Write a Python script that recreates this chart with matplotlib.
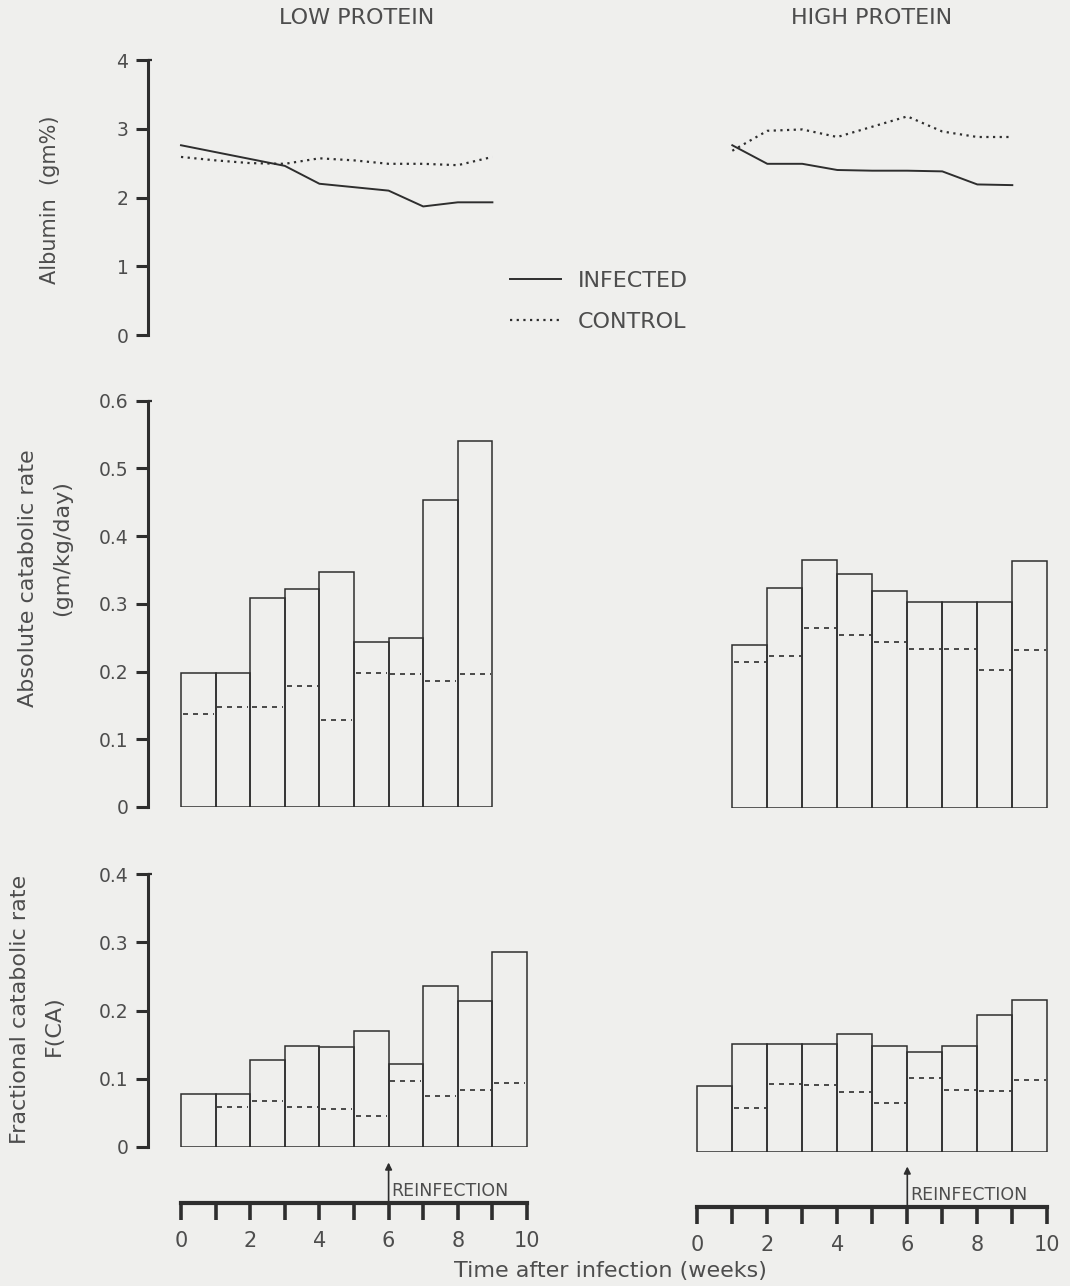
import numpy as np
import matplotlib
matplotlib.use("Agg")
import matplotlib.pyplot as plt
from matplotlib.lines import Line2D

# --- data ---
alb_weeks_low = [0, 1, 2, 3, 4, 5, 6, 7, 8, 9]
alb_low_infected = [2.76, 2.66, 2.56, 2.46, 2.20, 2.15, 2.10, 1.87, 1.93, 1.93]
alb_low_control = [2.59, 2.54, 2.50, 2.49, 2.57, 2.54, 2.49, 2.49, 2.47, 2.59]

alb_weeks_high = [1, 2, 3, 4, 5, 6, 7, 8, 9]
alb_high_infected = [2.76, 2.49, 2.49, 2.40, 2.39, 2.39, 2.38, 2.19, 2.18]
alb_high_control = [2.68, 2.97, 2.99, 2.88, 3.03, 3.18, 2.96, 2.88, 2.88]

acr_weeks_low = [0, 1, 2, 3, 4, 5, 6, 7, 8]
acr_low_infected = [0.198, 0.198, 0.308, 0.322, 0.347, 0.244, 0.249, 0.454, 0.541]
acr_low_control = [0.138, 0.148, 0.148, 0.178, 0.128, 0.198, 0.197, 0.186, 0.196]

acr_weeks_high = [1, 2, 3, 4, 5, 6, 7, 8, 9]
acr_high_infected = [0.241, 0.325, 0.366, 0.345, 0.321, 0.304, 0.304, 0.304, 0.365]
acr_high_control = [0.216, 0.225, 0.266, 0.255, 0.245, 0.235, 0.235, 0.204, 0.234]

fcr_weeks = [0, 1, 2, 3, 4, 5, 6, 7, 8, 9]
fcr_low_infected = [0.077, 0.077, 0.127, 0.148, 0.147, 0.170, 0.121, 0.236, 0.214, 0.285]
fcr_low_control = [None, 0.058, 0.068, 0.058, 0.055, 0.045, 0.096, 0.075, 0.084, 0.094]
fcr_high_infected = [0.097, 0.158, 0.158, 0.158, 0.173, 0.156, 0.147, 0.155, 0.201, 0.222]
fcr_high_control = [None, 0.064, 0.099, 0.098, 0.088, 0.072, 0.108, 0.091, 0.090, 0.105]

alb_ticks = [0, 1, 2, 3, 4]
alb_ticklabels = ["0", "1", "2", "3", "4"]
acr_ticks = [0, 0.1, 0.2, 0.3, 0.4, 0.5, 0.6]
acr_ticklabels = ["0", "0.1", "0.2", "0.3", "0.4", "0.5", "0.6"]
fcr_ticks = [0, 0.1, 0.2, 0.3, 0.4]
fcr_ticklabels = ["0", "0.1", "0.2", "0.3", "0.4"]
week_ticks = [0, 2, 4, 6, 8, 10]
week_minor = [1, 3, 5, 7, 9]

BG = "#efefed"
INK = "#2e2e2e"
TXT = "#4d4d4d"
W, H = 1070, 1286
plt.rcParams["font.family"] = "DejaVu Sans"

fig = plt.figure(figsize=(W / 100, H / 100), dpi=100, facecolor=BG)

XMIN, XMAX = -0.954, 10.35


def px_axes(x_zero, week_px, y_zero, y_top):
    left = x_zero + XMIN * week_px
    right = x_zero + XMAX * week_px
    ax = fig.add_axes([left / W, 1 - y_zero / H, (right - left) / W, (y_zero - y_top) / H])
    ax.set_xlim(XMIN, XMAX)
    ax.patch.set_alpha(0)
    for s in ax.spines.values():
        s.set_visible(False)
    ax.set_xticks([])
    ax.set_yticks([])
    return ax


def add_yaxis(ax, ticks, labels):
    ax.spines["left"].set_visible(True)
    ax.spines["left"].set_linewidth(2.2)
    ax.spines["left"].set_color(INK)
    ax.set_yticks(ticks)
    ax.set_yticklabels(labels)
    ax.tick_params(axis="y", direction="out", length=9, width=2.2, color=INK,
                   labelsize=13.5, labelcolor=TXT, pad=5)
    # small hook at the top of the axis line
    ax.plot([XMIN, XMIN + 0.12], [ticks[-1], ticks[-1]], color=INK, linewidth=1.6,
            clip_on=False, solid_capstyle="butt")


def draw_bars(ax, weeks, infected, control):
    ax.bar(weeks, infected, width=1, align="edge", fill=False,
           edgecolor=INK, linewidth=1.1)
    wk = np.array([w for w, c in zip(weeks, control) if c is not None], dtype=float)
    cv = np.array([c for c in control if c is not None], dtype=float)
    ax.hlines(cv, wk + 0.05, wk + 0.95, colors=INK, linewidth=1.2,
              linestyles=(0, (3, 3)))


# geometry of the two columns (pixel position of week 0, pixels per week)
LX0, LWK = 181, 34.6
RX0, RWK = 697.3, 35.0

# --- albumin ---
ax = px_axes(LX0, LWK, 335, 60)
ax.set_ylim(0, 4)
add_yaxis(ax, alb_ticks, alb_ticklabels)
ax.plot(alb_weeks_low, alb_low_infected, color=INK, linewidth=1.4)
ax.plot(alb_weeks_low, alb_low_control, color=INK, linewidth=1.6, linestyle=(0, (1, 2)))

ax = px_axes(RX0, RWK, 335, 60)
ax.set_ylim(0, 4)
ax.plot(alb_weeks_high, alb_high_infected, color=INK, linewidth=1.4)
ax.plot(alb_weeks_high, alb_high_control, color=INK, linewidth=1.6, linestyle=(0, (1, 2)))

# --- absolute catabolic rate ---
ax = px_axes(LX0, LWK, 807, 400.7)
ax.set_ylim(0, 0.6)
add_yaxis(ax, acr_ticks, acr_ticklabels)
draw_bars(ax, acr_weeks_low, acr_low_infected, acr_low_control)

ax = px_axes(RX0, RWK, 808, 401.7)
ax.set_ylim(0, 0.6)
draw_bars(ax, acr_weeks_high, acr_high_infected, acr_high_control)

# --- fractional catabolic rate ---
ax = px_axes(LX0, LWK, 1147, 874)
ax.set_ylim(0, 0.4)
add_yaxis(ax, fcr_ticks, fcr_ticklabels)
draw_bars(ax, fcr_weeks, fcr_low_infected, fcr_low_control)

ax = px_axes(RX0, RWK, 1152, 879)
ax.set_ylim(0, 0.4)
draw_bars(ax, fcr_weeks, fcr_high_infected, fcr_high_control)

# --- time axes with reinfection arrow ---
for x0, wk, y_line in [(LX0, LWK, 1203), (RX0, RWK, 1207)]:
    tax = px_axes(x0, wk, y_line, y_line - 45)
    tax.set_ylim(0, 1)
    tax.spines["bottom"].set_visible(True)
    tax.spines["bottom"].set_bounds(0, 10)
    tax.spines["bottom"].set_linewidth(3)
    tax.spines["bottom"].set_color(INK)
    tax.set_xticks(week_ticks)
    tax.set_xticklabels([str(t) for t in week_ticks])
    tax.set_xticks(week_minor, minor=True)
    tax.tick_params(axis="x", which="both", direction="out", length=12, width=2.6,
                    color=INK, labelsize=15, labelcolor=TXT, pad=8)
    tax.annotate("", xy=(6, 0.9), xytext=(6, 0),
                 arrowprops=dict(arrowstyle="-|>", color=INK, lw=1.2,
                                 mutation_scale=10, shrinkA=0, shrinkB=0))
    tax.text(6.07, 0.06, "REINFECTION", fontsize=12.5, color=TXT, ha="left", va="bottom")

# --- texts ---
fig.text(357 / W, 1 - 18 / H, "LOW PROTEIN", fontsize=16, color=TXT, ha="center", va="center")
fig.text(872 / W, 1 - 18 / H, "HIGH PROTEIN", fontsize=16, color=TXT, ha="center", va="center")
fig.text(610 / W, 1 - 1271 / H, "Time after infection (weeks)", fontsize=16, color=TXT,
         ha="center", va="center")
fig.text(50 / W, 1 - 200 / H, "Albumin  (gm%)", fontsize=15, color=TXT,
         rotation=90, ha="center", va="center")
fig.text(28 / W, 1 - 578 / H, "Absolute catabolic rate", fontsize=16, color=TXT,
         rotation=90, ha="center", va="center")
fig.text(62 / W, 1 - 548 / H, "(gm/kg/day)", fontsize=16, color=TXT,
         rotation=90, ha="center", va="center")
fig.text(20 / W, 1 - 1009 / H, "Fractional catabolic rate", fontsize=16, color=TXT,
         rotation=90, ha="center", va="center")
fig.text(54 / W, 1 - 1026 / H, "F(CA)", fontsize=16, color=TXT,
         rotation=90, ha="center", va="center")

handles = [Line2D([], [], color=INK, linewidth=1.4),
           Line2D([], [], color=INK, linewidth=1.6, linestyle=(0, (1, 2)))]
fig.legend(handles, ["INFECTED", "CONTROL"], loc="upper left",
           bbox_to_anchor=(510 / W, 1 - 271 / H), frameon=False, fontsize=16,
           labelcolor=TXT, handlelength=2.3, handletextpad=0.75, labelspacing=0.95,
           borderpad=0, borderaxespad=0)

fig.savefig("out.png", dpi=100, facecolor=BG)
